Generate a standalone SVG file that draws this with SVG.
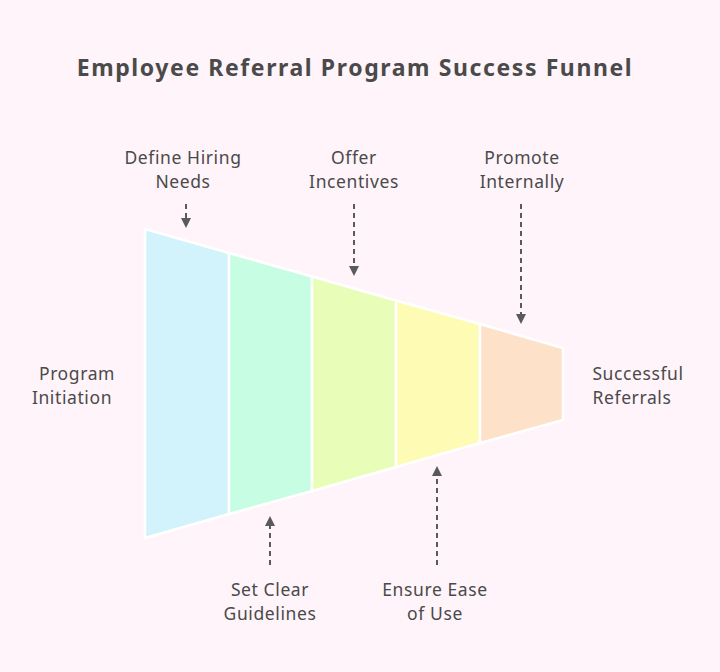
<svg xmlns="http://www.w3.org/2000/svg" width="720" height="672" viewBox="0 0 720 672">
<defs>
<style>
text{font-family:"Noto Sans","Liberation Sans",sans-serif;font-size:17.5px;fill:#4a4a4a;text-anchor:middle;letter-spacing:0.6px}
.seg{stroke:#fff;stroke-width:2.5}
.ar{stroke:#5a5a5a;stroke-width:2;stroke-dasharray:5 4;fill:none;marker-end:url(#ah)}
</style>
<marker id="ah" viewBox="0 0 10 10" refX="6" refY="5" markerWidth="5" markerHeight="5" orient="auto"><path d="M0,0 L10,5 L0,10 Z" fill="#5a5a5a"/></marker>
</defs>
<rect width="720" height="672" fill="#fff4f9"/>
<text x="355" y="76" style="font-size:23px;font-weight:bold;letter-spacing:1.6px">Employee Referral Program Success Funnel</text>
<g id="funnel">
<polygon id="s1" class="seg" fill="#d3f3fc" points="145,229 229,253 229,514 145,538"/>
<polygon id="s2" class="seg" fill="#c6fde3" points="229,253 312,276.5 312,491 229,514"/>
<polygon id="s3" class="seg" fill="#e8fdb8" points="312,276.5 396,300.5 396,467 312,491"/>
<polygon id="s4" class="seg" fill="#fefbb5" points="396,300.5 480,324 480,443 396,467"/>
<polygon id="s5" class="seg" fill="#fde2c9" points="480,324 563,348 563,420 480,443"/>
</g>
<g id="connectors">
<path class="ar" d="M186,204 V224"/>
<path class="ar" d="M354,204 V272"/>
<path class="ar" d="M521,204 V320"/>
<path class="ar" d="M270,565 V520"/>
<path class="ar" d="M437,565 V470"/>
</g>
<g id="l1"><text x="183" y="164">Define Hiring</text><text x="183" y="188">Needs</text></g>
<g id="l2"><text x="354" y="164">Offer</text><text x="354" y="188">Incentives</text></g>
<g id="l3"><text x="522" y="164">Promote</text><text x="522" y="188">Internally</text></g>
<g id="l4"><text x="77" y="380">Program</text><text x="72" y="404">Initiation</text></g>
<g id="l5"><text x="638" y="380">Successful</text><text x="632" y="404">Referrals</text></g>
<g id="l6"><text x="270" y="596">Set Clear</text><text x="270" y="620">Guidelines</text></g>
<g id="l7"><text x="435" y="596">Ensure Ease</text><text x="435" y="620">of Use</text></g>
</svg>
